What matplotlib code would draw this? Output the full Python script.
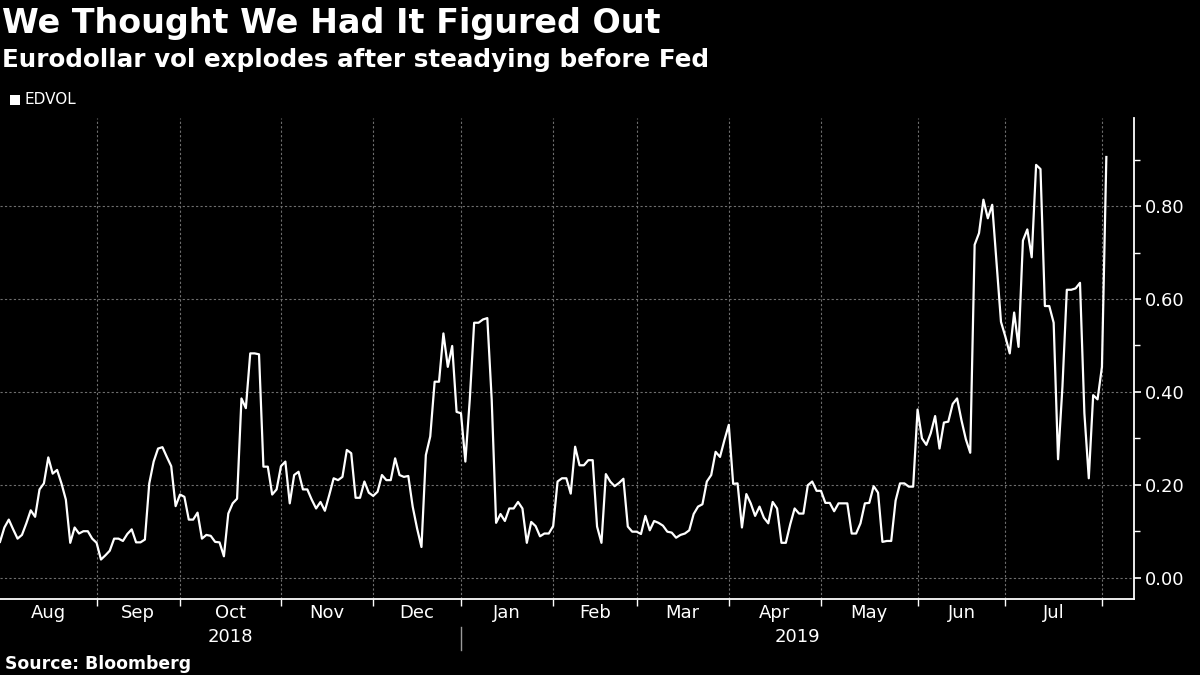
import matplotlib
matplotlib.use('Agg')
import matplotlib.pyplot as plt
import matplotlib.transforms as mtransforms
from matplotlib.ticker import MultipleLocator, FormatStrFormatter

# ---------------------------------------------------------------
# Data (one value per trading day)
# ---------------------------------------------------------------
edvol = [
    # Aug - Oct 2018
    0.077, 0.108, 0.125, 0.104, 0.084, 0.092, 0.117, 0.145, 0.131, 0.190,
    0.203, 0.259, 0.224, 0.232, 0.203, 0.168, 0.075, 0.108, 0.095, 0.100,
    0.100, 0.084, 0.075, 0.039, 0.048, 0.058, 0.084, 0.084, 0.079, 0.094,
    0.104, 0.076, 0.076, 0.082, 0.203, 0.250, 0.278, 0.281, 0.260, 0.240,
    0.154, 0.179, 0.174, 0.125, 0.125, 0.140, 0.084, 0.092, 0.090, 0.077,
    0.076, 0.046, 0.138, 0.160, 0.170, 0.386, 0.365, 0.483, 0.483, 0.481,
    0.239, 0.239, 0.179, 0.190, 0.240, 0.250, 0.160, 0.221, 0.228,
    # Nov 2018 - Jan 2019
    0.190, 0.190, 0.168, 0.149, 0.163, 0.144, 0.178, 0.214, 0.210, 0.217,
    0.275, 0.268, 0.172, 0.172, 0.207, 0.183, 0.176, 0.185, 0.221, 0.210,
    0.210, 0.257, 0.221, 0.217, 0.219, 0.153, 0.106, 0.066, 0.264, 0.304,
    0.422, 0.422, 0.526, 0.454, 0.499, 0.357, 0.354, 0.250, 0.383, 0.549,
    0.549, 0.556, 0.559, 0.383, 0.118, 0.137, 0.122, 0.149, 0.149, 0.163,
    0.149, 0.075, 0.120, 0.111, 0.089, 0.095, 0.095, 0.111, 0.207, 0.214,
    0.214, 0.181, 0.282, 0.242,
    # Feb - May 2019
    0.242, 0.253, 0.253, 0.110, 0.075, 0.223, 0.207, 0.197, 0.204, 0.213,
    0.110, 0.099, 0.099, 0.094, 0.133, 0.102, 0.122, 0.118, 0.112, 0.099,
    0.097, 0.086, 0.092, 0.095, 0.102, 0.137, 0.153, 0.158, 0.207, 0.221,
    0.271, 0.260, 0.296, 0.329, 0.202, 0.203, 0.108, 0.180, 0.160, 0.133,
    0.153, 0.129, 0.117, 0.163, 0.149, 0.075, 0.075, 0.115, 0.149, 0.138,
    0.138, 0.199, 0.207, 0.187, 0.187, 0.161, 0.161, 0.143, 0.160, 0.160,
    0.160, 0.095, 0.095, 0.117, 0.160, 0.161, 0.197, 0.183, 0.077, 0.079,
    0.079, 0.166, 0.203,
    # Jun - Aug 2019
    0.203, 0.196, 0.196, 0.362, 0.300, 0.286, 0.311, 0.348, 0.278, 0.334,
    0.336, 0.374, 0.386, 0.339, 0.298, 0.269, 0.717, 0.742, 0.814, 0.774,
    0.803, 0.677, 0.551, 0.519, 0.483, 0.571, 0.497, 0.726, 0.750, 0.690,
    0.889, 0.880, 0.585, 0.585, 0.549, 0.255, 0.411, 0.620, 0.620, 0.623,
    0.635, 0.354, 0.214, 0.393, 0.384, 0.454, 0.906,
]

# index of the first trading day of each month (Aug 2018 ... Aug 2019)
month_start = [0, 22, 41, 64, 85, 105, 126, 145, 166, 187, 209, 229, 251]
month_labels = ['Aug', 'Sep', 'Oct', 'Nov', 'Dec', 'Jan', 'Feb',
                'Mar', 'Apr', 'May', 'Jun', 'Jul']
year_labels = ['2018', '2019']
jan_idx = 5   # position of Jan in month_labels

x_max = 258.3
y_min, y_max = -0.046, 0.99

# ---------------------------------------------------------------
fig = plt.figure(figsize=(12, 6.75), dpi=100, facecolor='black')
ax = fig.add_axes([0.0, 0.1126, 0.945, 0.7126], facecolor='black')

x = list(range(len(edvol)))
ax.plot(x, edvol, color='white', linewidth=1.6, zorder=3)

ax.set_xlim(0, x_max)
ax.set_ylim(y_min, y_max)

# spines
for s in ['top', 'left']:
    ax.spines[s].set_visible(False)
for s in ['bottom', 'right']:
    ax.spines[s].set_color('white')
    ax.spines[s].set_linewidth(1.3)

# y axis on the right
ax.yaxis.tick_right()
ax.yaxis.set_major_locator(MultipleLocator(0.2))
ax.yaxis.set_minor_locator(MultipleLocator(0.1))
ax.yaxis.set_major_formatter(FormatStrFormatter('%.2f'))
ax.tick_params(axis='y', which='major', colors='white', labelsize=13,
               length=5, width=1.2, pad=3, direction='out')
ax.tick_params(axis='y', which='minor', colors='white', length=4, width=1.0)

# x axis: tick marks at month boundaries, labels between
ax.set_xticks(month_start[1:])
ax.set_xticklabels([])
ax.tick_params(axis='x', which='major', colors='white', length=5, width=1.0,
               direction='out')

trans = mtransforms.blended_transform_factory(ax.transData, ax.transAxes)
for i, lab in enumerate(month_labels):
    xm = (month_start[i] + month_start[i + 1]) / 2
    ax.text(xm, -0.03, lab, transform=trans, color='white', fontsize=13,
            ha='center', va='center')

jan = month_start[jan_idx]
ax.text((month_start[0] + jan) / 2, -0.08, year_labels[0], transform=trans,
        color='white', fontsize=13, ha='center', va='center')
ax.text((jan + x_max) / 2, -0.08, year_labels[1], transform=trans,
        color='white', fontsize=13, ha='center', va='center')
ax.plot([jan, jan], [-0.058, -0.106], transform=trans, color='#9a9a9a',
        linewidth=1.0, clip_on=False)

# grid
for xv in month_start[1:]:
    ax.axvline(xv, color='#6e6e6e', linewidth=0.8, linestyle=(0, (2, 2)), zorder=1)
for yv in [0.0, 0.2, 0.4, 0.6, 0.8]:
    ax.axhline(yv, color='#6e6e6e', linewidth=0.8, linestyle=(0, (2, 2)), zorder=1)

# titles, legend, source
fig.text(0.002, 0.965, 'We Thought We Had It Figured Out', color='white',
         fontsize=24, fontweight='bold', ha='left', va='center')
fig.text(0.002, 0.911, 'Eurodollar vol explodes after steadying before Fed',
         color='white', fontsize=17.7, fontweight='bold', ha='left', va='center')
fig.patches.append(plt.Rectangle((0.0083, 0.8445), 0.0083, 0.0148,
                                 transform=fig.transFigure, facecolor='white',
                                 edgecolor='none'))
fig.text(0.02, 0.852, 'EDVOL', color='white', fontsize=11, ha='left', va='center')
fig.text(0.004, 0.017, 'Source: Bloomberg', color='white', fontsize=12.4,
         fontweight='bold', ha='left', va='center')

fig.savefig('out.png', dpi=100, facecolor='black')
